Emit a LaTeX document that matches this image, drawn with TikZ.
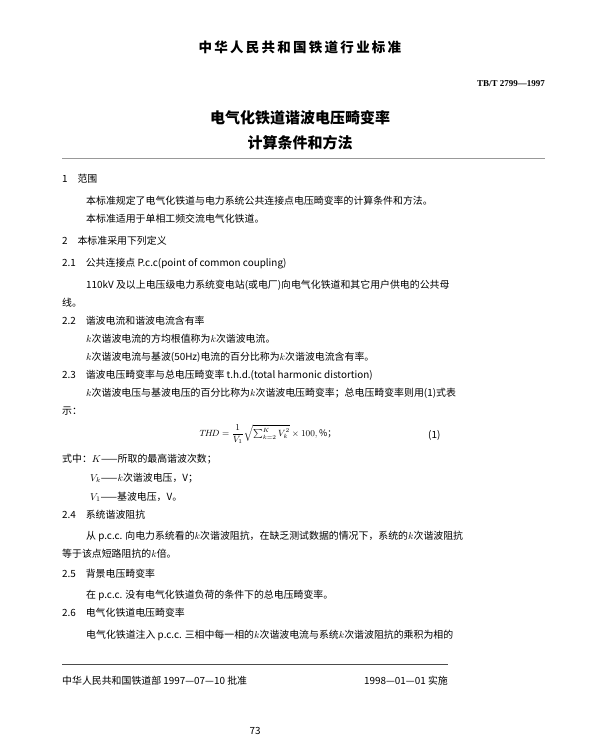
\documentclass[tikz,border=0pt]{standalone}
\usepackage{fontspec}
\usepackage{amsmath}
\setmainfont{Noto Sans CJK SC}
\newfontfamily\latin{Liberation Serif}
\tikzset{
  txt/.style={anchor=base west, inner sep=0pt, font=\fontsize{9.9}{12}\selectfont},
  head/.style={anchor=base west, inner sep=0pt, font=\fontsize{9.9}{12}\selectfont},
  ttl/.style={anchor=base, inner sep=0pt, font=\fontsize{15}{18}\selectfont\bfseries},
  rule/.style={line width=0.8pt, black!70}
}
\begin{document}
\begin{tikzpicture}[x=1pt,y=-1pt]
\useasboundingbox[fill=white] (0,0) rectangle (600,739);
% heading
\node[ttl, font=\fontsize{13.5}{16}\selectfont\bfseries] (std) at (300,52) {中\,华\,人\,民\,共\,和\,国\,铁\,道\,行\,业\,标\,准};
\node[anchor=base east, inner sep=0pt, font=\latin\fontsize{9}{10}\selectfont\bfseries] (num) at (545,86) {TB/T 2799—1997};
\node[ttl] (t1) at (300,123) {电气化铁道谐波电压畸变率};
\node[ttl] (t2) at (300,148) {计算条件和方法};
\draw[rule, black!40] (62,158) -- (545,158);
% section 1
\node[head] (s1) at (62,182) {1\quad 范围};
\node[txt] (p1) at (86,204) {本标准规定了电气化铁道与电力系统公共连接点电压畸变率的计算条件和方法。};
\node[txt] (p2) at (86,222) {本标准适用于单相工频交流电气化铁道。};
% section 2
\node[head] (s2) at (62,244) {2\quad 本标准采用下列定义};
\node[txt] (s21) at (62,266) {2.1\quad 公共连接点 P.c.c(point of common coupling)};
\node[txt] (p3) at (86,288) {110kV 及以上电压级电力系统变电站(或电厂)向电气化铁道和其它用户供电的公共母};
\node[txt] (p4) at (62,306) {线。};
\node[txt] (s22) at (62,324) {2.2\quad 谐波电流和谐波电流含有率};
\node[txt] (p5) at (86,342) {$k$次谐波电流的方均根值称为$k$次谐波电流。};
\node[txt] (p6) at (86,360) {$k$次谐波电流与基波(50Hz)电流的百分比称为$k$次谐波电流含有率。};
\node[txt] (s23) at (62,378) {2.3\quad 谐波电压畸变率与总电压畸变率 t.h.d.(total harmonic distortion)};
\node[txt] (p7) at (86,396) {$k$次谐波电压与基波电压的百分比称为$k$次谐波电压畸变率；总电压畸变率则用(1)式表};
\node[txt] (p8) at (62,414) {示：};
\node[anchor=center, inner sep=1pt, font=\fontsize{9}{10}\selectfont] (eq) at (268,434)
  {$T\!H\!D=\dfrac{1}{V_1}\sqrt{\textstyle\sum_{k=2}^{K}V_k^2}\times100,\%$；};
\node[txt] (eqn) at (428,438) {(1)};
\node[txt] (w1) at (62,462) {式中：$K$——所取的最高谐波次数；};
\node[txt] (w2) at (90,481) {$V_k$——$k$次谐波电压，V；};
\node[txt] (w3) at (90,500) {$V_1$——基波电压，V。};
\node[txt] (s24) at (62,518) {2.4\quad 系统谐波阻抗};
\node[txt] (p9) at (86,539) {从 p.c.c. 向电力系统看的$k$次谐波阻抗，在缺乏测试数据的情况下，系统的$k$次谐波阻抗};
\node[txt] (p10) at (62,557) {等于该点短路阻抗的$k$倍。};
\node[txt] (s25) at (62,577) {2.5\quad 背景电压畸变率};
\node[txt] (p11) at (86,598) {在 p.c.c. 没有电气化铁道负荷的条件下的总电压畸变率。};
\node[txt] (s26) at (62,616) {2.6\quad 电气化铁道电压畸变率};
\node[txt] (p12) at (86,638) {电气化铁道注入 p.c.c. 三相中每一相的$k$次谐波电流与系统$k$次谐波阻抗的乘积为相的};
% footer
\draw[rule] (62,664) -- (448,664);
\node[txt] (ft1) at (62,684) {中华人民共和国铁道部 1997—07—10 批准};
\node[txt, anchor=base east] (ft2) at (448,684) {1998—01—01 实施};
\node[txt, anchor=base] (pg) at (255,734) {73};
\end{tikzpicture}
\end{document}
